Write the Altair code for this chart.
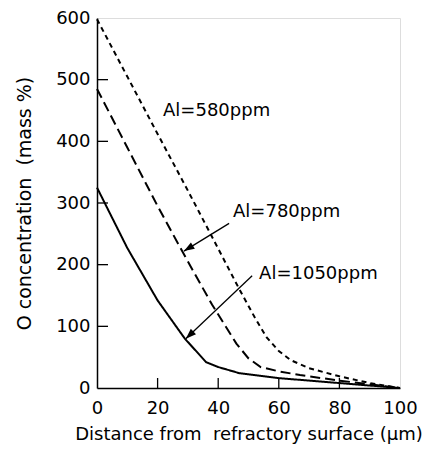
import math
import altair as alt
import pandas as pd

# ---- data ----
dist_580 = [0, 10, 20, 30, 40, 47, 52, 56, 60, 64, 70, 80, 90, 100]
conc_580 = [598, 505, 412, 320, 226, 160, 115, 82, 60, 45, 32, 19, 8, 0]

dist_780 = [0, 10, 20, 30, 38, 46, 50, 54, 60, 67, 80, 90, 100]
conc_780 = [485, 390, 295, 205, 135, 72, 48, 34, 27, 21, 12, 6, 0]

dist_1050 = [0, 10, 20, 29, 36, 40, 47, 60, 80, 100]
conc_1050 = [325, 227, 142, 80, 42, 34, 24, 16, 8, 0]

series_names = ["Al=580ppm", "Al=780ppm", "Al=1050ppm"]

label_x = [21.8, 44.9, 53.5]
label_y = [450, 285, 185]

arrow_names = ["Al=780ppm", "Al=1050ppm"]
arrow_x0 = [43.6, 51.2]
arrow_y0 = [267, 182]
arrow_x1 = [28.7, 29.3]
arrow_y1 = [222, 80]

x_ticks = [0, 20, 40, 60, 80, 100]
y_ticks = [0, 100, 200, 300, 400, 500, 600]
x_inner_ticks = [20, 40, 60, 80]
y_inner_ticks = [100, 200, 300, 400, 500]

W, H = 303, 370
FONT = "DejaVu Sans"

rows = []
for name, xs_, ys_ in zip(series_names, [dist_580, dist_780, dist_1050],
                          [conc_580, conc_780, conc_1050]):
    for a, b in zip(xs_, ys_):
        rows.append({"series": name, "dist": a, "conc": b})
lines_df = pd.DataFrame(rows)

labels_df = pd.DataFrame({"text": series_names, "x": label_x, "y": label_y})

ang = []
for x0, y0, x1, y1 in zip(arrow_x0, arrow_y0, arrow_x1, arrow_y1):
    dx = (x1 - x0) * W / 100.0
    dy = -(y1 - y0) * H / 600.0
    ang.append(math.degrees(math.atan2(dx, -dy)) % 360)
arrows_df = pd.DataFrame({"name": arrow_names, "x0": arrow_x0, "y0": arrow_y0,
                          "x1": arrow_x1, "y1": arrow_y1, "angle": ang})

xtick_df = pd.DataFrame({"v": x_inner_ticks})
ytick_df = pd.DataFrame({"v": y_inner_ticks})

xsc = alt.Scale(domain=[0, 100], nice=False, zero=False)
ysc = alt.Scale(domain=[0, 600], nice=False)

xaxis = alt.Axis(values=x_ticks, ticks=False, grid=False, domainColor="black",
                 domainWidth=1.5, labelFont=FONT, labelFontSize=18,
                 labelColor="black", labelPadding=11, labelFlush=False,
                 title="Distance from\u00a0 refractory surface (\u03bcm)",
                 titleFont=FONT, titleFontSize=18, titleFontWeight="normal",
                 titleColor="black", titlePadding=8)
yaxis = alt.Axis(values=y_ticks, ticks=False, grid=False, domainColor="black",
                 domainWidth=1.5, labelFont=FONT, labelFontSize=18,
                 labelColor="black", labelPadding=7, labelFlush=False,
                 title="O concentration\u00a0 (mass %)",
                 titleFont=FONT, titleFontSize=19, titleFontWeight="normal",
                 titleColor="black", titlePadding=21)

lines = alt.Chart(lines_df).mark_line(color="black", strokeWidth=2).encode(
    x=alt.X("dist:Q", scale=xsc, axis=xaxis),
    y=alt.Y("conc:Q", scale=ysc, axis=yaxis),
    strokeDash=alt.StrokeDash("series:N",
                              scale=alt.Scale(domain=series_names,
                                              range=[[5, 4], [10, 5], [1, 0]]),
                              legend=None),
    detail="series:N",
)

xt = alt.Chart(xtick_df).mark_rule(color="black", strokeWidth=1.3).encode(
    x=alt.X("v:Q", scale=xsc), y=alt.value(H), y2=alt.value(H - 10))
yt = alt.Chart(ytick_df).mark_rule(color="black", strokeWidth=1.3).encode(
    y=alt.Y("v:Q", scale=ysc), x=alt.value(0), x2=alt.value(11))

texts = alt.Chart(labels_df).mark_text(align="left", baseline="middle",
                                       font=FONT, fontSize=18, color="black").encode(
    x=alt.X("x:Q", scale=xsc), y=alt.Y("y:Q", scale=ysc), text="text:N")

shafts = alt.Chart(arrows_df).mark_rule(color="black", strokeWidth=1.3).encode(
    x=alt.X("x0:Q", scale=xsc), y=alt.Y("y0:Q", scale=ysc),
    x2="x1:Q", y2="y1:Q")

heads = alt.Chart(arrows_df).mark_point(
    shape="M0,0 L0.36,1 L-0.36,1 Z", filled=True, color="black", opacity=1,
    size=440, strokeWidth=0).encode(
    x=alt.X("x1:Q", scale=xsc), y=alt.Y("y1:Q", scale=ysc),
    angle=alt.Angle("angle:Q", scale=None))

chart = alt.layer(lines, xt, yt, shafts, heads, texts).properties(
    width=W, height=H,
    autosize=alt.AutoSizeParams(type="none"),
    padding={"left": 89, "top": 10, "right": 26, "bottom": 56},
).configure_view(stroke="black", strokeWidth=1.5).configure(background="white")

chart.save("out.html", embed_options={"renderer": "svg", "actions": False})
